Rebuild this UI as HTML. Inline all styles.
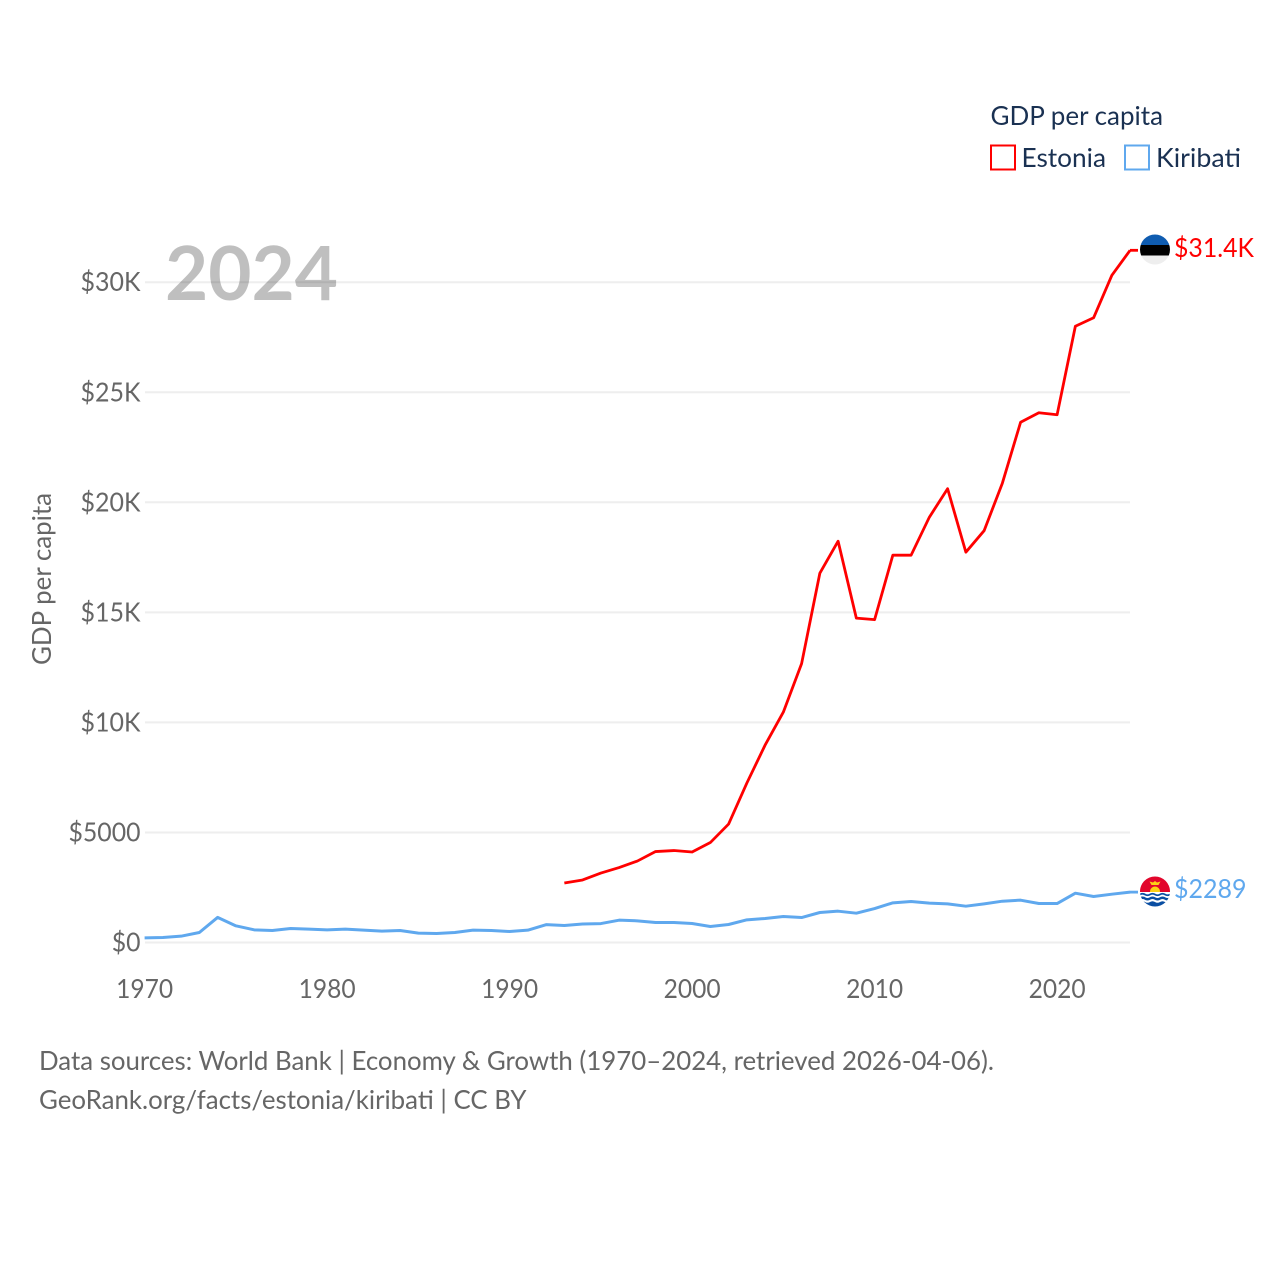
<!DOCTYPE html>
<html lang="en">
<head>
<meta charset="utf-8">
<title>GDP per capita: Estonia and Kiribati</title>
<style>
  html, body { margin: 0; padding: 0; background: #fff; }
  svg { display: block; }
  text { font-family: "Lato", "Carlito", "Liberation Sans", sans-serif; }
</style>
</head>
<body>
<svg id="chart" width="1280" height="1280" viewBox="0 0 1280 1280" xmlns="http://www.w3.org/2000/svg">
  <defs>
    <clipPath id="clip-ee"><circle cx="1155" cy="249.5" r="15"/></clipPath>
    <clipPath id="clip-ki"><circle cx="1155" cy="891.5" r="15"/></clipPath>
  </defs>
  <rect width="1280" height="1280" fill="#fff"/>

  <g id="grid"></g>
  <text x="165" y="300" font-size="75" font-weight="700" fill="#000" fill-opacity="0.25" textLength="173" lengthAdjust="spacingAndGlyphs">2024</text>
  <g id="y-ticks"></g>
  <g id="x-ticks"></g>
  <text transform="translate(51,665) rotate(-90)" font-size="26" fill="#666666" textLength="172" lengthAdjust="spacingAndGlyphs">GDP per capita</text>
  <g id="series"></g>

  <g>
    <text x="990.5" y="125" font-size="26" fill="#1a3152" textLength="172.5" lengthAdjust="spacingAndGlyphs">GDP per capita</text>
    <g>
      <rect x="991" y="145.5" width="24" height="24" fill="none" stroke="#ff0000" stroke-width="2"/>
      <text x="1021.5" y="167" font-size="26" fill="#1a3152" textLength="84.5" lengthAdjust="spacingAndGlyphs">Estonia</text>
    </g>
    <g>
      <rect x="1125" y="145.5" width="24" height="24" fill="none" stroke="#5fa8ee" stroke-width="2"/>
      <text x="1156" y="167" font-size="26" fill="#1a3152" textLength="85" lengthAdjust="spacingAndGlyphs">Kiribati</text>
    </g>
  </g>

  <g clip-path="url(#clip-ee)">
    <rect x="1140" y="234" width="30" height="11" fill="#0f5cb0"/>
    <rect x="1140" y="245" width="30" height="10.5" fill="#000"/>
    <rect x="1140" y="255.5" width="30" height="10" fill="#eeeeee"/>
  </g>
  <g clip-path="url(#clip-ki)">
    <rect x="1140" y="876" width="30" height="16" fill="#e2062c"/>
    <circle cx="1155" cy="891.5" r="5" fill="#fcd116"/>
    <path d="M1155 881l2 1.500 3.500-1-2 3.500h-7l-2-3.500 3.500 1z" fill="#fcd116"/>
    <rect x="1140" y="892" width="30" height="16" fill="#fff"/>
    <path d="M1140 894.500q2.500-1.500 5 0t5 0 5 0 5 0 5 0 5 0" fill="none" stroke="#0a4ea2" stroke-width="1.800"/>
    <path d="M1140 898.500q2.500-1.500 5 0t5 0 5 0 5 0 5 0 5 0" fill="none" stroke="#0a4ea2" stroke-width="2.400"/>
    <path d="M1140 902q2.500-1.500 5 0t5 0 5 0 5 0 5 0 5 0V908h-30z" fill="#0a4ea2"/>
  </g>
  <text id="label-ee" x="1174" y="257" font-size="26" fill="#ff0000" textLength="80" lengthAdjust="spacingAndGlyphs">$31.4K</text>
  <text id="label-ki" x="1174" y="898" font-size="26" fill="#5fa8ee" textLength="72.5" lengthAdjust="spacingAndGlyphs">$2289</text>

  <g>
    <text x="39" y="1070" font-size="26" fill="#666666" textLength="955" lengthAdjust="spacingAndGlyphs">Data sources: World Bank | Economy &amp; Growth (1970–2024, retrieved 2026-04-06).</text>
    <text x="39" y="1109" font-size="26" fill="#666666" textLength="487.5" lengthAdjust="spacingAndGlyphs">GeoRank.org/facts/estonia/kiribati | CC BY</text>
  </g>
</svg>
<script>
const yTickValues = [0, 5000, 10000, 15000, 20000, 25000, 30000];
const yTickLabels = ["$0", "$5000", "$10K", "$15K", "$20K", "$25K", "$30K"];
const xTickYears = [1970, 1980, 1990, 2000, 2010, 2020];
const estoniaStartYear = 1993;
const estoniaValues = [2702, 2840, 3156, 3406, 3700, 4132, 4178, 4110, 4541, 5381, 7243, 8969, 10468, 12670, 16780, 18233, 14737, 14668, 17598, 17598, 19323, 20618, 17734, 18710, 20868, 23638, 24069, 23978, 27997, 28383, 30313, 31449];
const kiribatiStartYear = 1970;
const kiribatiValues = [212, 227, 288, 454, 1140, 757, 575, 545, 636, 606, 575, 606, 560, 515, 545, 424, 409, 454, 560, 545, 500, 560, 810, 770, 840, 860, 1014, 984, 908, 908, 863, 727, 818, 1030, 1090, 1181, 1135, 1363, 1423, 1332, 1544, 1802, 1862, 1787, 1756, 1650, 1756, 1877, 1923, 1771, 1771, 2240, 2089, 2195, 2289];

const SVG_NS = "http://www.w3.org/2000/svg";
const xScale = year => 144.6 + (year - 1970) * 18.25;
const yScale = value => 942.5 - value * 0.02201;

function makeSvg(tag, attrs, parent, text) {
  const el = document.createElementNS(SVG_NS, tag);
  Object.keys(attrs).forEach(k => el.setAttribute(k, attrs[k]));
  if (text !== undefined) el.textContent = text;
  parent.appendChild(el);
  return el;
}

const gridGroup = document.getElementById("grid");
const yTickGroup = document.getElementById("y-ticks");
yTickValues.forEach((v, i) => {
  const line = makeSvg("line", { x1: 145, x2: 1130, y1: yScale(v), y2: yScale(v), stroke: "#eeeeee", "stroke-width": 2 }, gridGroup);
  
  
  const label = yTickLabels[i];
  const width = label.length * 14.4 + (label.endsWith("K") ? 2.4 : 0);
  const t = makeSvg("text", { x: 140.5, y: yScale(v) + 9, "text-anchor": "end", "font-size": 26, fill: "#666666", textLength: width, lengthAdjust: "spacingAndGlyphs" }, yTickGroup, label);
  
  
});

const xTickGroup = document.getElementById("x-ticks");
xTickYears.forEach(year => {
  const label = String(year);
  const t = makeSvg("text", { x: xScale(year), y: 998, "text-anchor": "middle", "font-size": 26, fill: "#666666", textLength: 57, lengthAdjust: "spacingAndGlyphs" }, xTickGroup, label);
  
  
});

function pathFor(startYear, values) {
  return values.map((v, i) => (i ? "L" : "M") + xScale(startYear + i).toFixed(2) + " " + yScale(v).toFixed(2)).join("");
}
const seriesGroup = document.getElementById("series");
const kiribatiLine = makeSvg("path", { d: pathFor(kiribatiStartYear, kiribatiValues), fill: "none", stroke: "#5fa8ee", "stroke-width": 3, "stroke-linejoin": "round" }, seriesGroup);


const estoniaLine = makeSvg("path", { d: pathFor(estoniaStartYear, estoniaValues), fill: "none", stroke: "#ff0000", "stroke-width": 2.8, "stroke-linejoin": "round" }, seriesGroup);



const lastEstonia = estoniaValues[estoniaValues.length - 1];
const lastKiribati = kiribatiValues[kiribatiValues.length - 1];
const eeStub = makeSvg("line", { x1: 1130, x2: 1138, y1: yScale(lastEstonia), y2: yScale(lastEstonia), stroke: "#ff0000", "stroke-width": 2.8 }, seriesGroup);


const kiStub = makeSvg("line", { x1: 1130, x2: 1138, y1: yScale(lastKiribati), y2: yScale(lastKiribati), stroke: "#5fa8ee", "stroke-width": 2.8 }, seriesGroup);


</script>
</body>
</html>
